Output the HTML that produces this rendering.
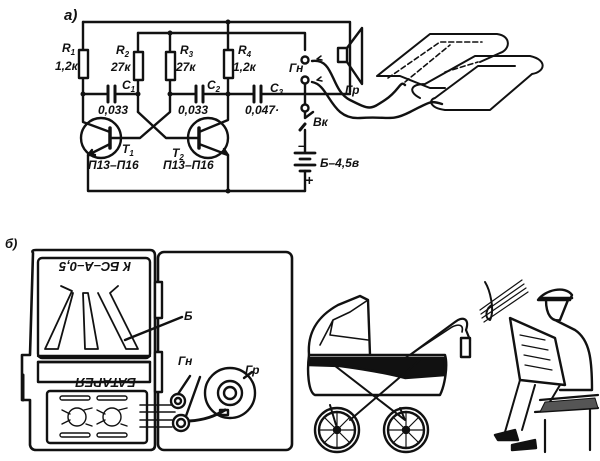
<!DOCTYPE html>
<html><head><meta charset="utf-8"><style>
html,body{margin:0;padding:0;background:#fff}
svg{display:block}
text{font-family:"Liberation Sans",sans-serif;font-style:italic;font-weight:bold;fill:#111}
</style></head><body>
<svg width="600" height="461" viewBox="0 0 600 461" xmlns="http://www.w3.org/2000/svg" stroke="#111" fill="none" stroke-width="2.4" stroke-linejoin="round" stroke-linecap="round">
<text x="64" y="20" font-size="15" stroke="none">а)</text>
<path d="M83 22 H350 V92"/>
<path d="M138 33 H305 V50"/>
<path d="M83 22 V50 M83 78 V94"/>
<rect x="79" y="50" width="9" height="28" fill="#fff"/>
<path d="M138 33 V52 M138 80 V112"/>
<rect x="134" y="52" width="9" height="28" fill="#fff"/>
<path d="M170 33 V52 M170 80 V94"/>
<rect x="166" y="52" width="9" height="28" fill="#fff"/>
<path d="M228 22 V50 M228 78 V94"/>
<rect x="224" y="50" width="9" height="28" fill="#fff"/>
<path d="M83 94 H108 M115 94 H138 M170 94 H196 M203 94 H228 H254 M261 94 H350"/>
<path d="M108 86 V102 M115 86 V102 M196 86 V102 M203 86 V102 M254 86 V102 M261 86 V102" stroke-width="3"/>
<g fill="#111" stroke="none"><circle cx="83" cy="94" r="2.5"/><circle cx="138" cy="94" r="2.5"/><circle cx="170" cy="94" r="2.5"/><circle cx="228" cy="94" r="2.5"/><circle cx="228" cy="22" r="2.5"/><circle cx="170" cy="33" r="2.5"/><circle cx="228" cy="191" r="2.5"/></g>
<g stroke="none" font-size="12">
<text x="62" y="52">R<tspan font-size="8" dy="3">1</tspan></text>
<text x="55" y="70">1,2к</text>
<text x="116" y="54">R<tspan font-size="8" dy="3">2</tspan></text>
<text x="111" y="71">27к</text>
<text x="180" y="54">R<tspan font-size="8" dy="3">3</tspan></text>
<text x="176" y="71">27к</text>
<text x="238" y="54">R<tspan font-size="8" dy="3">4</tspan></text>
<text x="233" y="71">1,2к</text>
<text x="122" y="89">C<tspan font-size="8" dy="3">1</tspan></text>
<text x="207" y="89">C<tspan font-size="8" dy="3">2</tspan></text>
<text x="270" y="92">C<tspan font-size="8" dy="3">3</tspan></text>
<text x="98" y="114">0,033</text>
<text x="178" y="114">0,033</text>
<text x="245" y="114">0,047·</text>
<text x="122" y="153">T<tspan font-size="8" dy="3">1</tspan></text>
<text x="172" y="157">T<tspan font-size="8" dy="3">2</tspan></text>
<text x="88" y="169">П13–П16</text>
<text x="163" y="169">П13–П16</text>
<text x="289" y="72">Гн</text>
<text x="345" y="94">Гр</text>
<text x="313" y="126">Вк</text>
<text x="320" y="167">Б–4,5в</text>
<text x="298" y="150" font-size="14">–</text>
<text x="305" y="185" font-size="14">+</text>
</g>
<circle cx="101" cy="138" r="20"/>
<circle cx="208" cy="138" r="20"/>
<path d="M110 128 V148" stroke-width="3.5"/>
<path d="M199 128 V148" stroke-width="3.5"/>
<path d="M83 94 V122 L110 132 M110 144 L88 155 V191 H305 M110 138 H140 L170 112 V94 M199 138 H166 L138 112 M228 94 V120 L199 132 M199 144 L228 155 V191"/>
<path d="M92 150 L88 155 L95 155" fill="#111"/>
<path d="M222 153 L228 155 L224 149" fill="#111"/>
<circle cx="305" cy="60" r="3.5" fill="#fff"/>
<circle cx="305" cy="80" r="3.5" fill="#fff"/>
<circle cx="305" cy="108" r="3.5" fill="#fff"/>
<path d="M305 84 V104 M305 112 V118 M305 118 L313 112 M305 130 V152"/>
<path d="M300 130 L305 124" stroke-width="3"/>
<path d="M295 153 H315 M300 159 H310 M295 165 H315 M300 171 H310" stroke-width="2.8"/>
<path d="M305 171 V191"/>
<rect x="338" y="48" width="9" height="14" fill="#fff"/>
<path d="M347 48 L362 28 V84 L347 62"/>
<path d="M312 61 C335 58, 330 90, 350 100 S370 110, 385 100 S400 80, 405 85"/>
<path d="M312 82 C330 85, 330 120, 360 118 S390 122, 410 112 S430 100, 442 104"/>
<path d="M317 59 l4 -3 M317 59 l5 1 M317 80 l4 -3 M317 80 l5 1" stroke-width="1.5"/>
<path d="M377 76 L430 34 H497 C512 36,510 50,500 53 L480 62 M377 76 H400 C410 80,415 82,430 88 H445" stroke-width="2"/>
<path d="M388 78 L440 42 H482 M405 82 L450 45 M445 72 L478 62" stroke-dasharray="5,3" stroke-width="1.6"/>
<path d="M420 98 C408 92,410 84,425 84 L475 56 H530 C548 60,545 72,532 74 L490 110 H445 C430 108,428 100,435 98 L478 66 H515" stroke-width="2"/>
<!-- b) -->
<text x="5" y="248" font-size="13" stroke="none">б)</text>
<path d="M33 253 Q31 250,36 250 H150 Q155 250,155 256 V445 Q155 450,150 450 H36 Q31 450,30 445 V400 H22 V355 H30 Z" stroke-width="2.6"/>
<path d="M23 375 V400" stroke-width="3"/>
<rect x="158" y="252" width="134" height="198" rx="6" stroke-width="2.6"/>
<rect x="155" y="282" width="7" height="36" fill="#fff"/>
<rect x="155" y="352" width="7" height="40" fill="#fff"/>
<rect x="38" y="258" width="112" height="100" rx="4"/>
<path d="M38 356 H150 M38 362 H150"/>
<rect x="38" y="362" width="112" height="20"/>
<g stroke="none" font-style="normal" font-size="13">
<text transform="translate(131,262) rotate(180)">К БС–А–0,5</text>
<text transform="translate(136,378) rotate(180)">БАТАРЕЯ</text>
</g>
<g fill="#fff" stroke-width="1.8">
<path d="M61 286 L72 291 L45 349 H58 L73 293"/>
<path d="M83 293 H88 L98 349 H85 Z"/>
<path d="M118 286 L110 293 L138 349 H126 L98 293"/>
</g>
<path d="M125 340 L182 317"/>
<g stroke="none" font-size="12"><text x="184" y="320">Б</text><text x="178" y="365">Гн</text><text x="245" y="374">Гр</text></g>
<rect x="47" y="391" width="100" height="52" rx="3"/>
<g stroke-width="1.4">
<rect x="60" y="396" width="30" height="4" rx="2"/><rect x="97" y="396" width="30" height="4" rx="2"/>
<rect x="60" y="433" width="30" height="4" rx="2"/><rect x="97" y="433" width="30" height="4" rx="2"/>
<circle cx="77" cy="417" r="9"/><circle cx="112" cy="417" r="9"/>
<path d="M62 410 L70 414 M84 410 L92 408 M62 424 L70 420 M86 424 L92 426 M97 410 L105 414 M119 410 L127 408 M97 424 L105 420 M121 424 L127 426"/>
</g>
<path d="M140 405 H172 M140 412 H175 M140 420 H172 M140 427 H172" stroke-width="1.6"/>
<circle cx="178" cy="401" r="7"/><circle cx="178" cy="401" r="3"/>
<circle cx="181" cy="423" r="8"/><circle cx="181" cy="423" r="4"/>
<path d="M178 394 L190 376 M186 416 L200 377"/>
<circle cx="230" cy="393" r="25"/>
<circle cx="230" cy="393" r="12"/><circle cx="230" cy="393" r="6"/>
<path d="M189 421 C205 420,215 416,225 410" stroke-width="3"/>
<rect x="220" y="410" width="8" height="5"/>
<path d="M244 378 L252 372"/>
<!-- pram -->
<path d="M309 355 C307 330,320 315,338 305 L360 296 L368 300 L370 355" fill="#fff"/>
<path d="M320 345 L333 320 L350 312 L368 300 M333 320 L330 335 L368 340" stroke-width="1.6"/>
<path d="M309 355 H445 C448 365,445 385,440 395 H315 C308 392,307 370,309 355 Z" fill="#fff"/>
<path d="M309 358 H445 V375 L405 378 C390 374,370 370,340 366 L309 365 Z" fill="#111"/>
<path d="M330 362 L405 420 M420 360 L350 420 M330 405 L336 425 M400 408 L405 420" stroke-width="2"/>
<path d="M410 355 L455 322 C462 316,470 318,466 330 L470 340" stroke-width="2.2"/>
<path d="M405 358 L452 327 C458 324,464 324,462 332" stroke-width="1.6"/>
<rect x="461" y="338" width="9" height="19" fill="#fff"/>
<circle cx="337" cy="430" r="22"/><circle cx="337" cy="430" r="18"/><circle cx="337" cy="430" r="3" fill="#111"/>
<circle cx="406" cy="430" r="22"/><circle cx="406" cy="430" r="18"/><circle cx="406" cy="430" r="3" fill="#111"/>
<path d="M319 430 H355 M337 412 V448 M324 417 L350 443 M350 417 L324 443 M388 430 H424 M406 412 V448 M393 417 L419 443 M419 417 L393 443" stroke-width="1.2"/>
<!-- music -->
<path d="M480 310 L522 280 M481 314 L524 284 M482 318 L526 288 M484 322 L528 292" stroke-width="1.2"/>
<path d="M485 282 C490 290,495 310,490 320 C484 318,486 308,492 305" stroke-width="2"/>
<!-- man -->
<path d="M538 300 C545 290,565 285,572 295 L570 300 Z" fill="#fff"/>
<path d="M540 298 H572" stroke-width="2.5"/>
<path d="M546 300 C546 315,552 322,560 320 L568 300 M555 320 L575 330 C590 340,592 360,592 390 H560"/>
<path d="M510 318 L555 338 L565 385 L520 380 Z" fill="#fff"/>
<path d="M520 335 L545 340 M522 345 L548 350 M524 355 L550 360 M525 365 L552 370" stroke-width="1.2"/>
<path d="M520 380 L505 432 M535 385 L522 430 M560 385 L545 410" stroke-width="2"/>
<path d="M495 435 L515 430 L518 440 L498 440 Z M512 445 L535 440 L536 448 L512 450 Z" fill="#111"/>
<path d="M540 400 L598 395 M535 412 L598 408 M545 420 V452 M590 410 V450" stroke-width="2.2"/>
<path d="M545 402 L595 398 L598 408 L540 412 Z" fill="#555" stroke-width="1"/>
</svg>
</body></html>
